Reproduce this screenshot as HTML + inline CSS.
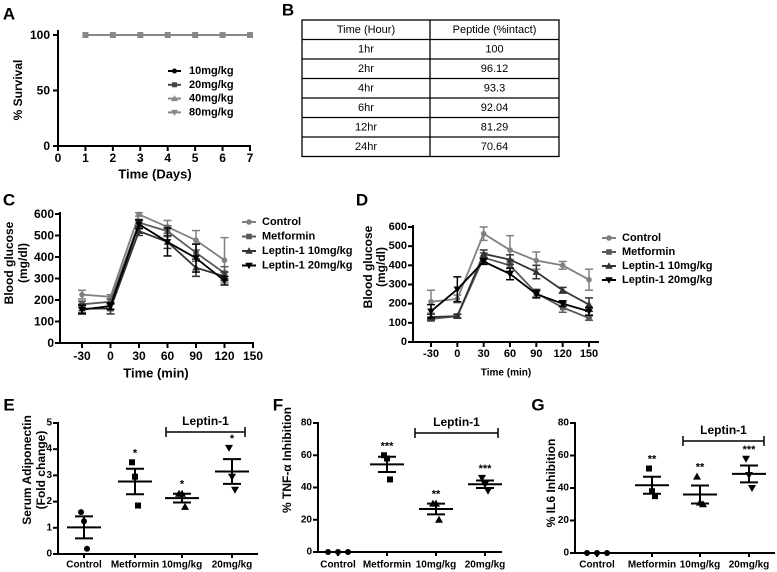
<!DOCTYPE html>
<html><head><meta charset="utf-8">
<style>
html,body{margin:0;padding:0;background:#fff;}
svg{display:block;font-family:"Liberation Sans",Arial,sans-serif;}
</style></head>
<body>
<svg id="fig" width="777" height="572" viewBox="0 0 777 572"></svg>
<script>
// ---------- DATA ----------
const daysA = [1,2,3,4,5,6,7];
const dosesA = ["10mg/kg","20mg/kg","40mg/kg","80mg/kg"];
const survival10 = [100,100,100,100,100,100,100];
const survival20 = [100,100,100,100,100,100,100];
const survival40 = [100,100,100,100,100,100,100];
const survival80 = [100,100,100,100,100,100,100];

const tableTimes = ["1hr","2hr","4hr","6hr","12hr","24hr"];
const tableIntact = ["100","96.12","93.3","92.04","81.29","70.64"];

const groupsCD = ["Control","Metformin","Leptin-1 10mg/kg","Leptin-1 20mg/kg"];
const timesC = [-30,0,30,60,90,120];
const cControl = [225,215,598,540,478,385];
const cControlErr = [20,10,8,30,45,105];
const cMetformin = [180,192,560,520,420,325];
const cMetforminErr = [15,12,15,25,40,30];
const cLep10 = [160,160,520,470,350,310];
const cLep10Err = [20,25,20,30,40,20];
const cLep20 = [155,172,552,470,395,290];
const cLep20Err = [20,15,20,65,65,20];
const xTicksC = [-30,0,30,60,90,120,150];
const yTicksC = [0,100,200,300,400,500,600];

const timesD = [-30,0,30,60,90,120,150];
const dControl = [210,225,565,480,425,400,325];
const dControlErr = [60,20,35,75,45,20,55];
const dMetformin = [120,135,440,400,255,180,125];
const dMetforminErr = [10,10,25,30,20,25,12];
const dLep10 = [130,135,460,430,365,270,195];
const dLep10Err = [15,10,20,25,35,15,35];
const dLep20 = [160,275,420,355,250,200,160];
const dLep20Err = [35,65,15,30,20,15,20];
const xTicksD = [-30,0,30,60,90,120,150];
const yTicksD = [0,100,200,300,400,500,600];

const catsEFG = ["Control","Metformin","10mg/kg","20mg/kg"];
const eControl = [1.6,1.25,0.2];
const eMetformin = [3.5,2.95,1.85];
const e10 = [2.3,2.3,1.8];
const e20 = [4.05,2.95,2.45];
const eStars = ["","*","*","*"];
const yTicksE = [0,1,2,3,4,5];

const fControl = [0,0,0];
const fMetformin = [60,58,45];
const f10 = [30,30,20];
const f20 = [46,42,38];
const fStars = ["","***","**","***"];
const yTicksF = [0,20,40,60,80];

const gControl = [0,0,0];
const gMetformin = [52,38,35];
const g10 = [47,31,30];
const g20 = [58,48,40];
const gStars = ["","**","**","***"];
const yTicksG = [0,20,40,60,80];

// ---------- HELPERS ----------
const NS = "http://www.w3.org/2000/svg";
const svg = document.getElementById("fig");
function el(tag, attrs, name, parent){
  const e = document.createElementNS(NS, tag);
  for (const k in attrs) e.setAttribute(k, attrs[k]);
  
  
  (parent||svg).appendChild(e);
  return e;
}
function txt(x,y,s,size,anchor,name,opts){
  opts = opts||{};
  const a = {x:x,y:y,"font-size":size,"text-anchor":anchor||"middle","font-weight":opts.weight||"bold",fill:opts.fill||"#000","dominant-baseline":"central"};
  if (opts.rot) a.transform = "rotate(-90 "+x+" "+y+")";
  const t = el("text",a,name);
  t.textContent = s;
  return t;
}
function line(x1,y1,x2,y2,name,w,c){
  return el("line",{x1:x1,y1:y1,x2:x2,y2:y2,stroke:c||"#000","stroke-width":w||2},name);
}
function marker(shape,x,y,r,color,name){
  if (shape==="circle") return el("circle",{cx:x,cy:y,r:r,fill:color},name);
  if (shape==="square") return el("rect",{x:x-r,y:y-r,width:2*r,height:2*r,fill:color},name);
  if (shape==="up") return el("polygon",{points:(x)+","+(y-r-1)+" "+(x-r-1)+","+(y+r)+" "+(x+r+1)+","+(y+r),fill:color},name);
  return el("polygon",{points:(x)+","+(y+r+1)+" "+(x-r-1)+","+(y-r)+" "+(x+r+1)+","+(y-r),fill:color},name);
}
function linScale(d0,d1,r0,r1){return v => r0 + (v-d0)*(r1-r0)/(d1-d0);}

// ---------- PANEL A ----------
(function(){
  const xs = linScale(0,7,58,250), ys = linScale(0,100,146,35);
  txt(9,14,"A",17,"middle","panel-a-label");
  line(58,30,58,147,"a-y-axis");
  line(57,146,251,146,"a-x-axis");
  [0,50,100].forEach(v=>{line(53,ys(v),58,ys(v),"a-y-tick");txt(50,ys(v),String(v),12,"end","a-y-tick-label");});
  [0,1,2,3,4,5,6,7].forEach(v=>{line(xs(v),146,xs(v),151,"a-x-tick");txt(xs(v),158,String(v),12,"middle","a-x-tick-label");});
  txt(155,174,"Time (Days)",13,"middle","a-x-axis-title");
  txt(18,90,"% Survival",12,"middle","a-y-axis-title",{rot:true});
  const series=[survival10,survival20,survival40,survival80];
  const shapes=["circle","square","up","down"], cols=["#000","#444","#888","#888"];
  series.forEach((s,i)=>{
    const pts = daysA.map((d,j)=>xs(d)+","+ys(s[j])).join(" ");
    el("polyline",{points:pts,fill:"none",stroke:"#888","stroke-width":2},"a-line-"+dosesA[i]);
  });
  daysA.forEach((d,j)=>marker("square",xs(d),ys(survival80[j]),3,"#888","a-point"));
  dosesA.forEach((n,i)=>{
    const y=71+i*13.8;
    line(168,y,181,y,"a-legend-line",2,cols[i]);
    marker(shapes[i],174.5,y,2.5,cols[i],"a-legend-marker");
    txt(189,y,n,11,"start","a-legend-entry");
  });
})();

// ---------- TABLE B ----------
(function(){
  txt(288,10,"B",17,"middle","panel-b-label");
  const x0=302,x1=559,xm=430,y0=20,rh=19.5;
  el("rect",{x:x0,y:y0,width:x1-x0,height:rh*7,fill:"none",stroke:"#000","stroke-width":1.3},"table-border");
  line(xm,y0,xm,y0+rh*7,"table-col-divider",1.3);
  for(let i=1;i<7;i++) line(x0,y0+i*rh,x1,y0+i*rh,"table-row-divider",1.3);
  txt((x0+xm)/2,y0+rh/2,"Time (Hour)",11,"middle","table-header-time",{weight:"normal"});
  txt((xm+x1)/2,y0+rh/2,"Peptide (%intact)",11,"middle","table-header-peptide",{weight:"normal"});
  tableTimes.forEach((t,i)=>{
    txt((x0+xm)/2,y0+rh*(i+1.5),t,11,"middle","table-time-cell",{weight:"normal"});
    txt((xm+x1)/2,y0+rh*(i+1.5),tableIntact[i],11,"middle","table-value-cell",{weight:"normal"});
  });
})();

// ---------- LINE PANELS C, D ----------
const shapesCD=["circle","square","up","down"], colsCD=["#808080","#5a5a5a","#333","#000"];
function glucosePanel(p){
  const xs=p.xs, ys=p.ys;
  txt(p.lx,p.ly,p.letter,17,"middle","panel-"+p.letter.toLowerCase()+"-label");
  line(p.ax,ys(p.yTicks[p.yTicks.length-1])-2,p.ax,p.ay+1,p.letter+"-y-axis");
  line(p.ax-1,p.ay,p.axEnd,p.ay,p.letter+"-x-axis");
  p.yTicks.forEach(v=>{line(p.ax-5,ys(v),p.ax,ys(v),"y-tick");txt(p.ax-6,ys(v),String(v),p.tick,"end","y-tick-label");});
  p.xTicks.forEach(v=>{line(xs(v),p.ay,xs(v),p.ay+5,"x-tick");txt(xs(v),p.xly,String(v),p.tick,"middle","x-tick-label");});
  txt(p.xtx,p.xty,"Time (min)",p.xtSize,"middle","x-axis-title");
  txt(p.yt1,p.ytY,"Blood glucose",12,"middle","y-axis-title",{rot:true});
  txt(p.yt2,p.ytY,"(mg/dl)",12,"middle","y-axis-title-unit",{rot:true});
  p.series.forEach((s,i)=>{
    const err=p.errs[i];
    const pts=p.times.map((t,j)=>xs(t)+","+ys(s[j])).join(" ");
    el("polyline",{points:pts,fill:"none",stroke:colsCD[i],"stroke-width":1.8},"series-line-"+i);
    p.times.forEach((t,j)=>{
      const x=xs(t);
      line(x,ys(s[j]-err[j]),x,ys(s[j]+err[j]),"error-bar",1.5,colsCD[i]);
      line(x-4,ys(s[j]+err[j]),x+4,ys(s[j]+err[j]),"error-cap",1.5,colsCD[i]);
      line(x-4,ys(s[j]-err[j]),x+4,ys(s[j]-err[j]),"error-cap",1.5,colsCD[i]);
      marker(shapesCD[i],x,ys(s[j]),2.8,colsCD[i],"data-point");
    });
  });
  groupsCD.forEach((g,i)=>{
    const y=p.legY+i*p.legDy;
    line(p.legX,y,p.legX+14,y,"legend-line",2,colsCD[i]);
    marker(shapesCD[i],p.legX+7,y,2.8,colsCD[i],"legend-marker");
    txt(p.legX+20,y,g,11,"start","legend-entry");
  });
}
glucosePanel({letter:"C",lx:9,ly:200,xs:linScale(-30,150,82,253),ys:linScale(0,600,343,214),
  ax:60,ay:343,axEnd:254,xTicks:xTicksC,yTicks:yTicksC,times:timesC,
  series:[cControl,cMetformin,cLep10,cLep20],errs:[cControlErr,cMetforminErr,cLep10Err,cLep20Err],
  tick:12,xly:356,xtx:156,xty:373,xtSize:13,yt1:9,yt2:23,ytY:263,legX:242,legY:222,legDy:14.5});
glucosePanel({letter:"D",lx:362,ly:200,xs:linScale(-30,150,431,589),ys:linScale(0,600,342,227),
  ax:413,ay:342,axEnd:599,xTicks:xTicksD,yTicks:yTicksD,times:timesD,
  series:[dControl,dMetformin,dLep10,dLep20],errs:[dControlErr,dMetforminErr,dLep10Err,dLep20Err],
  tick:11,xly:354,xtx:506,xty:373,xtSize:10,yt1:368,yt2:381,ytY:267,legX:602,legY:238,legDy:14});

// ---------- SCATTER PANELS E, F, G ----------
const shapesEFG=["circle","square","up","down"];
function scatterPanel(p){
  const ys=p.ys;
  txt(p.lx,p.ly,p.letter,17,"middle","panel-"+p.letter.toLowerCase()+"-label");
  line(p.ax,ys(p.yTicks[p.yTicks.length-1])-1,p.ax,p.ay+1,p.letter+"-y-axis");
  line(p.ax-1,p.ay,p.axEnd,p.ay,p.letter+"-x-axis");
  p.yTicks.forEach(v=>{line(p.ax-5,ys(v),p.ax,ys(v),"y-tick");txt(p.ax-6,ys(v),String(v),10,"end","y-tick-label");});
  p.groups.forEach((g,i)=>{
    const cx=p.cx[i];
    line(cx,p.ay,cx,p.ay+4,"x-tick");
    txt(cx,565,catsEFG[i],10,"middle","category-label");
    const mean=g.reduce((a,b)=>a+b,0)/g.length;
    const sd=Math.sqrt(g.reduce((a,b)=>a+(b-mean)*(b-mean),0)/(g.length-1));
    const sem=sd/Math.sqrt(g.length);
    const offs = (i===0 && p.spreadCtrl)?[-10,0,10]:[-3,0,3];
    g.forEach((v,k)=>marker(shapesEFG[i],cx+offs[k],ys(v),3,"#000","data-point"));
    if(!(i===0 && p.spreadCtrl)){
      line(cx-17,ys(mean),cx+17,ys(mean),"mean-line",2);
      line(cx,ys(mean-sem),cx,ys(mean+sem),"sem-bar",2);
      line(cx-9,ys(mean+sem),cx+9,ys(mean+sem),"sem-cap",2);
      line(cx-9,ys(mean-sem),cx+9,ys(mean-sem),"sem-cap",2);
    }
    if(p.stars[i]) txt(cx,ys(Math.max(...g))-9,p.stars[i],11,"middle","significance-stars");
  });
  line(p.bx0,p.by,p.bx1,p.by,"leptin-bracket",1.5);
  line(p.bx0,p.by-5,p.bx0,p.by+5,"bracket-end",1.5);
  line(p.bx1,p.by-5,p.bx1,p.by+5,"bracket-end",1.5);
  txt((p.bx0+p.bx1)/2,p.by-11,"Leptin-1",12,"middle","leptin-1-label");
  p.ytitles.forEach((t,k)=>txt(p.ytx[k],p.yty,t,12,"middle","y-axis-title",{rot:true}));
}
scatterPanel({letter:"E",lx:9,ly:405,ys:linScale(0,5,554,423),ax:58,ay:554,axEnd:258,yTicks:yTicksE,
  groups:[eControl,eMetformin,e10,e20],cx:[84,135,182,232],stars:eStars,spreadCtrl:false,
  bx0:166,bx1:245,by:432,ytitles:["Serum Adiponectin","(Fold change)"],ytx:[27,41],yty:470});
scatterPanel({letter:"F",lx:278,ly:405,ys:linScale(0,80,552,423),ax:318,ay:552,axEnd:502,yTicks:yTicksF,
  groups:[fControl,fMetformin,f10,f20],cx:[338,387,436,485],stars:fStars,spreadCtrl:true,
  bx0:415,bx1:498,by:433,ytitles:["% TNF-\u03b1 Inhibition"],ytx:[287],yty:460});
scatterPanel({letter:"G",lx:538,ly:405,ys:linScale(0,80,553,423),ax:575,ay:553,axEnd:775,yTicks:yTicksG,
  groups:[gControl,gMetformin,g10,g20],cx:[597,652,700,749],stars:gStars,spreadCtrl:true,
  bx0:683,bx1:764,by:441,ytitles:["% IL6 Inhibition"],ytx:[551],yty:483});
</script>
</body></html>
